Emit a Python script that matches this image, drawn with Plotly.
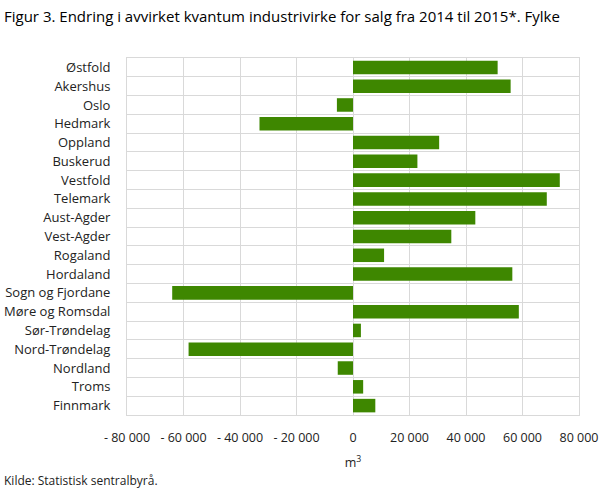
import plotly.graph_objects as go

# fylker og endring i m3 (lest av figuren)
fylker = ["Østfold", "Akershus", "Oslo", "Hedmark", "Oppland", "Buskerud",
          "Vestfold", "Telemark", "Aust-Agder", "Vest-Agder", "Rogaland",
          "Hordaland", "Sogn og Fjordane", "Møre og Romsdal", "Sør-Trøndelag",
          "Nord-Trøndelag", "Nordland", "Troms", "Finnmark"]
endring = [51200, 55800, -5700, -33100, 30500, 22800, 73200, 68600, 43300,
           34800, 11000, 56400, -64000, 58700, 2800, -58200, -5400, 3600, 7900]

tick_vals = [-80000, -60000, -40000, -20000, 0, 20000, 40000, 60000, 80000]
tick_text = ["- 80 000", "- 60 000", "- 40 000", "- 20 000", "0",
             "20 000", "40 000", "60 000", "80 000"]

W, H = 609, 489
L, R, T, B = 127, 30, 58, 74
pw, ph = W - L - R, H - T - B

fig = go.Figure()
fig.add_trace(go.Bar(
    y=fylker, x=endring, orientation="h",
    marker=dict(color="#3e8700", line=dict(width=0)),
    hovertemplate="%{y}: %{x}<extra></extra>",
))

fig.update_layout(
    width=W, height=H,
    margin=dict(l=L, r=R, t=T, b=B),
    paper_bgcolor="white", plot_bgcolor="white",
    font=dict(family="Open Sans", size=12.5, color="#222"),
    bargap=0.28,
    showlegend=False,
    title=dict(text="Figur 3. Endring i avvirket kvantum industrivirke for salg fra 2014 til 2015*. Fylke",
               x=4 / W, xanchor="left", y=1 - 17 / H, yanchor="middle", pad=dict(l=0),
               font=dict(family="Open Sans", size=15, color="#000")),
)
fig.update_xaxes(
    range=[-80000, 80000], tickvals=tick_vals, ticktext=tick_text,
    tickangle=0, automargin=False,
    showgrid=True, gridcolor="#d9d9d9", gridwidth=1,
    zeroline=False, showline=True, linecolor="#d9d9d9", mirror=True,
    ticks="", ticklabelstandoff=11,
    title=dict(text="m<sup>3</sup>", standoff=13, font=dict(size=12.5)),
)
fig.update_yaxes(
    categoryorder="array", categoryarray=fylker[::-1], automargin=False,
    tickson="boundaries", showgrid=True, gridcolor="#d9d9d9", gridwidth=1,
    showline=True, linecolor="#d9d9d9", mirror=True, ticks="",
    ticklabelstandoff=13, tickfont=dict(size=13),
)
fig.add_annotation(text="Kilde: Statistisk sentralbyrå.", xref="paper", yref="paper",
                   x=(2 - L) / pw, xanchor="left", y=(H - B - 480) / ph, yanchor="middle",
                   showarrow=False, font=dict(size=12, color="#222"))

# fjern standardmarg på body så figuren starter i hjørnet
fig.write_html("out.html", config={"displayModeBar": False},
               post_script="document.body.style.margin='0';")
